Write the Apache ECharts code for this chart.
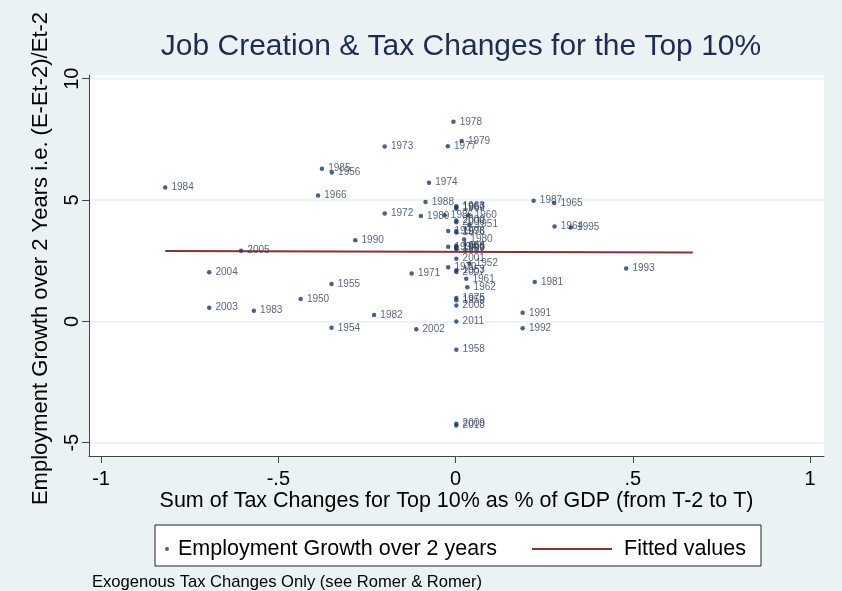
<!DOCTYPE html>
<html>
<head>
<meta charset="utf-8">
<script src="https://cdn.jsdelivr.net/npm/echarts@6/dist/echarts.min.js"></script>
<style>
  html, body { margin: 0; padding: 0; background: #eaf2f3; }
  #chart { width: 842px; height: 591px; }
</style>
</head>
<body>
<div id="chart"></div>
<script>
// Year of each observation
var years = [
  1950, 1951, 1952, 1954, 1955, 1956, 1958, 1960, 1961, 1962,
  1964, 1965, 1966, 1971, 1972, 1973, 1974, 1977, 1978, 1979,
  1980, 1981, 1982, 1983, 1984, 1985, 1986, 1987, 1988, 1989,
  1990, 1991, 1992, 1993, 1995, 2001, 2002, 2003, 2004, 2005,
  2008, 2009, 2010, 2011,
  1963, 1969, 2000, 2006, 1997, 1998, 1976, 1994, 1996, 1999,
  1957, 1968, 1970, 1953, 2007, 1975, 1959, 1967
];
// Sum of tax changes for the top 10% as % of GDP (T-2 to T)
var taxChange = [
  -0.437, 0.039, 0.039, -0.350, -0.350, -0.349, 0.002, 0.036, 0.030, 0.033,
  0.279, 0.278, -0.388, -0.124, -0.200, -0.200, -0.075, -0.022, -0.006, 0.017,
  0.024, 0.223, -0.230, -0.569, -0.819, -0.377, -0.031, 0.220, -0.085, -0.098,
  -0.283, 0.189, 0.189, 0.481, 0.325, 0.002, -0.111, -0.695, -0.695, -0.605,
  0.002, 0.002, 0.002, 0.002,
  0.002, 0.002, 0.002, 0.002, -0.021, 0.002, 0.002, -0.021, 0.002, 0.002,
  0.002, 0.002, -0.021, 0.002, 0.002, 0.002, 0.002, 0.002
];
// Employment growth over 2 years, (E-Et-2)/Et-2 in percent
var empGrowth = [
  0.92, 3.98, 2.38, -0.27, 1.54, 6.13, -1.17, 4.37, 1.75, 1.40,
  3.91, 4.88, 5.18, 1.97, 4.44, 7.20, 5.71, 7.21, 8.22, 7.43,
  3.37, 1.62, 0.26, 0.44, 5.51, 6.29, 4.37, 4.97, 4.92, 4.34,
  3.34, 0.35, -0.29, 2.18, 3.87, 2.58, -0.33, 0.56, 2.02, 2.91,
  0.65, -4.22, -4.29, -0.01,
  4.74, 4.64, 4.15, 4.08, 3.72, 3.72, 3.66, 3.07, 3.07, 3.02,
  2.98, 3.11, 2.23, 2.10, 2.03, 0.96, 0.87, 4.70
];
// Linear fit endpoints
var fitX = [-0.819, 0.669];
var fitY = [2.90, 2.84];

var xTicks = [-1, -0.5, 0, 0.5, 1];
var yTicks = [-5, 0, 5, 10];

function stataNum(v) {
  var s = String(v);
  return s.replace(/^(-?)0\./, '$1.');
}

var points = years.map(function (yr, i) {
  return { value: [taxChange[i], empGrowth[i]], name: String(yr) };
});
var fitLine = fitX.map(function (x, i) { return [x, fitY[i]]; });

var FONT = '"Liberation Sans", Arial, sans-serif';

var chart = echarts.init(document.getElementById('chart'), null, { renderer: 'canvas' });
chart.setOption({
  animation: false,
  backgroundColor: '#eaf2f3',
  textStyle: { fontFamily: FONT },
  title: {
    text: 'Job Creation & Tax Changes for the Top 10%',
    left: 456,
    textAlign: 'center',
    top: 27,
    textStyle: { fontFamily: FONT, fontSize: 30, fontWeight: 'normal', color: '#1e2d4f' }
  },
  grid: {
    left: 89, right: 18, top: 75, bottom: 135,
    show: true, backgroundColor: '#ffffff', borderWidth: 0
  },
  xAxis: {
    type: 'value',
    min: -1.034, max: 1.039,
    name: 'Sum of Tax Changes for Top 10% as % of GDP (from T-2 to T)',
    nameLocation: 'middle',
    nameGap: 34,
    nameMoveOverlap: false,
    nameTextStyle: { fontFamily: FONT, fontSize: 21.5, color: '#000' },
    axisLine: { show: true, onZero: false, lineStyle: { color: '#444', width: 1 } },
    axisTick: { show: true, inside: false, length: 7, customValues: xTicks, lineStyle: { color: '#444' } },
    axisLabel: { customValues: xTicks, margin: 13, fontSize: 20, color: '#000', formatter: stataNum },
    splitLine: { show: false }
  },
  yAxis: {
    type: 'value',
    min: -5.55, max: 10.15,
    name: 'Employment Growth over 2 Years i.e. (E-Et-2)/Et-2',
    nameLocation: 'middle',
    nameGap: 37,
    nameMoveOverlap: false,
    nameTextStyle: { fontFamily: FONT, fontSize: 22, color: '#000', padding: [0, 0, 0, 14] },
    axisLine: { show: true, onZero: false, lineStyle: { color: '#444', width: 1 } },
    axisTick: { show: true, inside: false, length: 7, customValues: yTicks, lineStyle: { color: '#444' } },
    axisLabel: { customValues: yTicks, rotate: 90, margin: 7, fontSize: 20, color: '#000', formatter: stataNum },
    splitLine: { show: false }
  },
  legend: [
    {
      left: 160, top: 533,
      itemWidth: 10, itemHeight: 4,
      data: [{ name: 'Employment Growth over 2 years', icon: 'circle' }],
      textStyle: { fontFamily: FONT, fontSize: 21.5, color: '#000', padding: [0, 0, 0, 1] },
      selectedMode: false
    },
    {
      left: 527, top: 533,
      itemWidth: 80, itemHeight: 2,
      data: [{ name: 'Fitted values', icon: 'rect' }],
      textStyle: { fontFamily: FONT, fontSize: 21.5, color: '#000', padding: [0, 0, 0, 7] },
      selectedMode: false
    }
  ],
  graphic: [
    {
      type: 'rect',
      shape: { x: 155, y: 525, width: 606, height: 41 },
      style: { fill: '#ffffff', stroke: '#222', lineWidth: 1 },
      z: -1, silent: true
    },
    {
      type: 'text',
      left: 92, top: 574,
      style: { text: 'Exogenous Tax Changes Only (see Romer & Romer)', font: '16.6px ' + FONT, fill: '#000' },
      silent: true
    }
  ],
  series: [
    {
      name: 'gridlines',
      type: 'line',
      data: [],
      z: 0,
      silent: true,
      markLine: {
        z: 0,
        silent: true,
        symbol: 'none',
        label: { show: false },
        lineStyle: { color: '#e6eff1', width: 1.5, type: 'solid' },
        data: yTicks.map(function (v) { return { yAxis: v }; })
      }
    },
    {
      name: 'Employment Growth over 2 years',
      type: 'scatter',
      data: points,
      symbol: 'circle',
      symbolSize: 4.5,
      itemStyle: { color: '#1b3a66' },
      label: {
        show: true,
        position: 'right',
        distance: 4,
        formatter: function (p) { return p.name; },
        fontFamily: FONT,
        fontSize: 10,
        color: '#2f3d5a'
      },
      z: 3
    },
    {
      name: 'Fitted values',
      type: 'line',
      data: fitLine,
      symbol: 'none',
      lineStyle: { color: '#8c2f38', width: 2 },
      itemStyle: { color: '#8c2f38' },
      z: 2
    }
  ]
});
</script>
</body>
</html>
